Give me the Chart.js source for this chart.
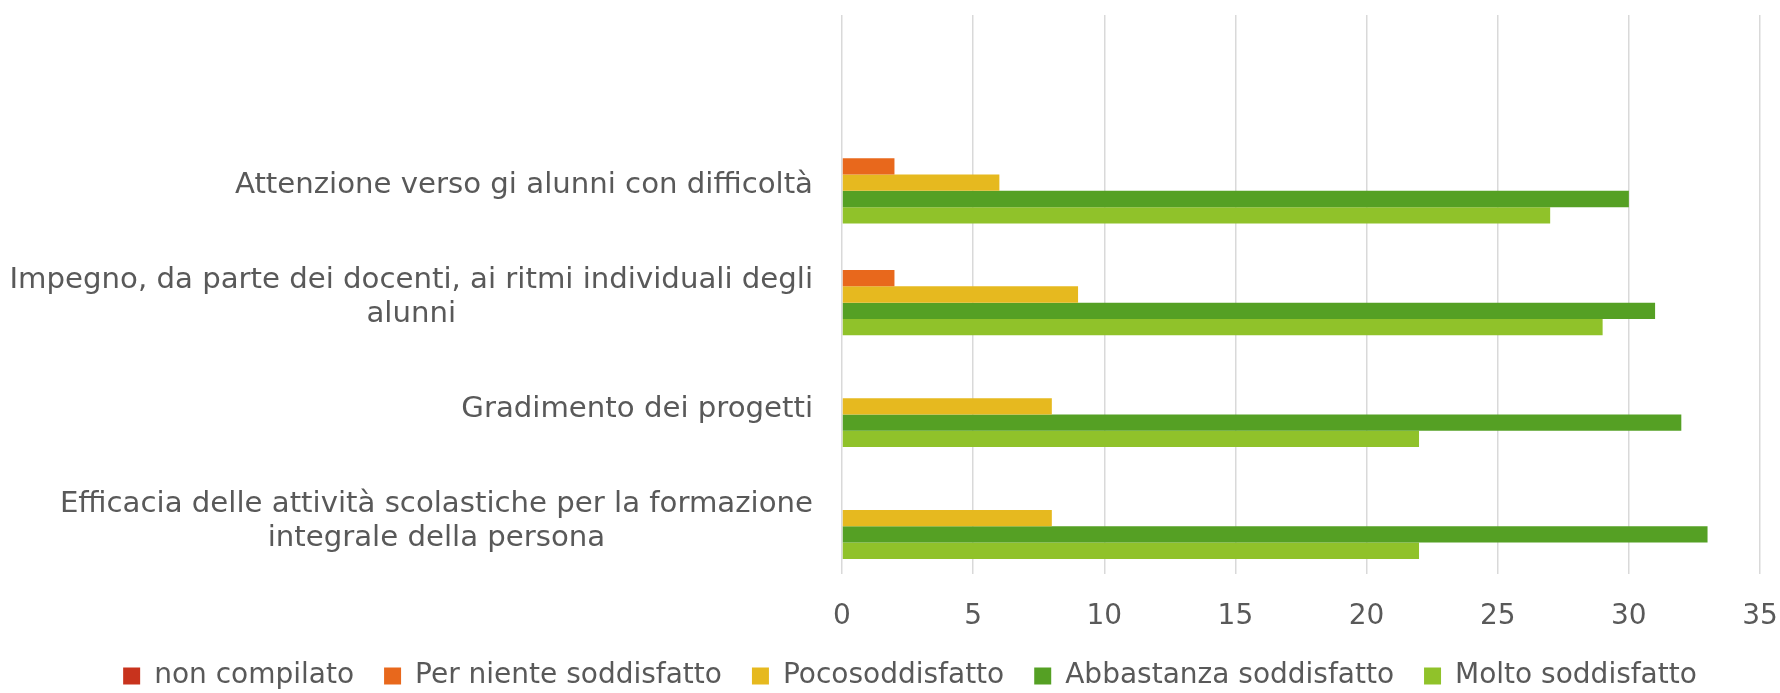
<!DOCTYPE html>
<html>
<head>
<meta charset="utf-8">
<script src="https://cdn.jsdelivr.net/npm/chart.js@4"></script>
<style>
    body { margin: 0; background: #fff; }
    #chart { display: block; }
</style>
</head>
<body>
<canvas id="chart" width="1780" height="693"></canvas>
<script>
// categories, top to bottom (the first row is empty in the source sheet)
const categories = [
    [''],
    ['Attenzione verso gi alunni con difficoltà'],
    ['Impegno, da parte dei docenti, ai ritmi individuali degli', 'alunni'],
    ['Gradimento dei progetti'],
    ['Efficacia delle attività scolastiche per la formazione', 'integrale della persona']
];

const seriesNames = ['non compilato', 'Per niente soddisfatto', 'Pocosoddisfatto', 'Abbastanza soddisfatto', 'Molto soddisfatto'];
const nonCompilato = [null, 0, 0, 0, 0];
const perNiente = [null, 2, 2, 0, 0];
const poco = [null, 6, 9, 8, 8];
const abbastanza = [null, 30, 31, 32, 33];
const molto = [null, 27, 29, 22, 22];
const seriesColors = ['#c8331d', '#e8681c', '#e6b91f', '#55a024', '#90c22a'];

const xTicks = [0, 5, 10, 15, 20, 25, 30, 35];

const textColor = '#595959';
const fontFamily = '"DejaVu Sans", sans-serif';

// draws the category labels: lines centred on each other, block right-aligned
const categoryLabels = {
    id: 'categoryLabels',
    afterDraw(chart) {
        const yScale = chart.scales.y;
        const ctx = chart.ctx;
        const lineHeight = 34;
        ctx.save();
        ctx.font = '29.2px ' + fontFamily;
        ctx.fillStyle = textColor;
        ctx.textAlign = 'center';
        ctx.textBaseline = 'middle';
        categories.forEach((lines, i) => {
            const widest = Math.max(...lines.map(l => ctx.measureText(l).width));
            const cx = yScale.right - 29 - widest / 2;
            const cy = yScale.getPixelForValue(i);
            const top = cy - (lines.length - 1) * lineHeight / 2 + 3;
            lines.forEach((line, j) => ctx.fillText(line, cx, top + j * lineHeight));
        });
        ctx.restore();
    }
};

const seriesData = [nonCompilato, perNiente, poco, abbastanza, molto];

const ctx = document.getElementById('chart').getContext('2d');
new Chart(ctx, {
    type: 'bar',
    data: {
        labels: categories,
        datasets: seriesNames.map((name, i) => ({
            label: name,
            data: seriesData[i],
            backgroundColor: seriesColors[i],
            borderWidth: 0,
            categoryPercentage: 0.73,
            barPercentage: 1
        }))
    },
    options: {
        indexAxis: 'y',
        responsive: false,
        animation: false,
        layout: { padding: { top: 15, right: 20, bottom: 0, left: 60 } },
        plugins: {
            tooltip: { enabled: false },
            legend: {
                position: 'bottom',
                maxHeight: 61,
                labels: {
                    color: textColor,
                    font: { family: fontFamily, size: 28 },
                    boxWidth: 17,
                    boxHeight: 17,
                    padding: 30
                }
            }
        },
        scales: {
            x: {
                min: 0,
                max: 35,
                afterBuildTicks: scale => {
                    scale.ticks = xTicks.map(v => ({ value: v }));
                },
                grid: { color: '#d9d9d9', lineWidth: 1.5, drawTicks: true, tickLength: 28, tickColor: 'rgba(0,0,0,0)' },
                border: { display: false },
                ticks: {
                    color: textColor,
                    font: { family: fontFamily, size: 28, lineHeight: 1 },
                    padding: 1
                }
            },
            y: {
                grid: { display: false },
                border: { display: false },
                ticks: { display: false },
                afterFit: scale => {
                    scale.width = 842 - 60;
                }
            }
        }
    },
    plugins: [categoryLabels]
});
</script>
</body>
</html>
